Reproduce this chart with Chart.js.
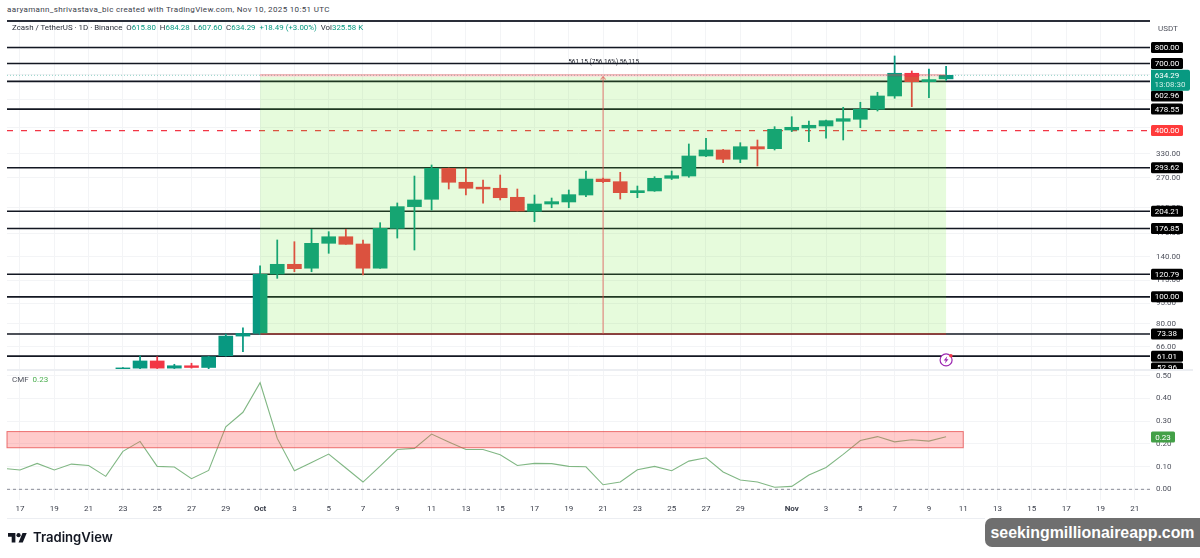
<!DOCTYPE html>
<html>
<head>
<meta charset="utf-8">
<script src="https://cdn.jsdelivr.net/npm/chart.js@4/dist/chart.umd.min.js"></script>
<style>
html,body{margin:0;padding:0;background:#fff;width:1200px;height:558px;overflow:hidden}
body{position:relative;font-family:Roboto,"Liberation Sans",sans-serif;color:#131722}
canvas{position:absolute;left:0;display:block}
.t{position:absolute;white-space:nowrap}
.g{color:#089981}
.rule{position:absolute}
</style>
</head>
<body>
<div class="t" style="left:7px;top:4px;font-size:8px;letter-spacing:0.34px;line-height:12px;color:#3a3e4a">aaryamann_shrivastava_bic created with TradingView.com, Nov 10, 2025 10:51 UTC</div>
<canvas id="price" width="1200" height="370" style="top:0"></canvas>
<canvas id="cmf" width="1200" height="148" style="top:370px"></canvas>
<div class="rule" style="left:7px;top:20px;width:1143px;height:1.5px;background:#2a2e39"></div>
<div class="rule" style="left:7px;top:369px;width:1186px;height:2px;background:#eceef2"></div>
<div class="rule" style="left:7px;top:517.5px;width:978px;height:1px;background:#eceef2"></div>
<div class="t" style="left:12px;top:22px;font-size:7.9px;line-height:11px;color:#2a2e39">Zcash / TetherUS · 1D · Binance&nbsp;&nbsp;O<span class="g">615.80</span>&nbsp;&nbsp;H<span class="g">684.28</span>&nbsp;&nbsp;L<span class="g">607.60</span>&nbsp;&nbsp;C<span class="g">634.29</span>&nbsp;&nbsp;<span class="g">+18.49 (+3.00%)</span>&nbsp;&nbsp;Vol<span class="g">325.58 K</span></div>
<div class="t" style="left:1158px;top:23px;font-size:8px;line-height:11px;color:#50535e">USDT</div>
<div class="t" style="left:12px;top:374px;font-size:8px;line-height:11px;color:#50535e">CMF&nbsp;&nbsp;<span style="color:#4caf50">0.23</span></div>
<svg class="t" style="left:8px;top:530.6px" width="19" height="14.8" viewBox="0 0 36 28"><path fill="#131722" d="M14 22H7V11H0V4h14v18zM28 22h-8l7.5-18h8L28 22z"/><circle fill="#131722" cx="20" cy="8" r="4"/></svg>
<div class="t" style="left:33px;top:528px;font-family:Inter,Roboto,sans-serif;font-size:13.1px;line-height:19px;font-weight:600;color:#131722">TradingView</div>
<div class="t" style="left:985px;top:518px;width:215px;height:29px;background:#6f6f6f;border-radius:7px 0 0 7px;color:#fff;font-family:'Liberation Sans',Arial,sans-serif;font-weight:700;font-size:15.9px;line-height:29px;text-align:center">seekingmillionaireapp.com</div>
<script>
// Calendar: day 0 is Sep 17
const firstCandleDay = 6; // Sep 23
const openPrices = [54.8,55.2,58.6,55.2,56.3,55.5,61.2,72.1,
  73.8,121,131.2,127,156.3,165.1,155.4,127,177.1,212.2,225.6,292.1,260,249.6,247.3,229.4,204.1,216.9,220.6,233.8,267.1,261.3,238.4,241.8,268.7,273.9,323.7,340.3,315,349.8,344,
  402.1,408.8,415.7,432.3,439.6,477.9,533.9,645.2,601.6,615.8];
const highPrices = [55.5,61.1,60.7,57,57.5,60.9,73.3,77.3,
  129.4,160.7,158.4,175.6,172.2,175.6,160.7,185.6,218.8,273.9,300.3,292.8,292,265,276.2,245.8,233.8,228,243.8,285.6,269,282.5,252,272.4,285.6,357.8,375.2,342,361.6,369.9,413.3,
  449.2,433.4,437,485.9,506.6,550.6,745.3,657.7,668.6,684.28];
const lowPrices = [54.6,55,55,55,55.2,54.8,61,63.3,
  73,116.7,123.3,123.3,143.8,155,120,126.8,163.3,147.8,206.3,245.8,233.8,218.2,224.3,204.6,187.1,210.3,210.3,230.6,259,226.1,228.6,241,266,271,322,306.2,306.2,297.8,340.3,
  396.5,364.7,375.2,369.9,409.8,471,523.8,488.4,526.5,607.6];
const closePrices = [55.3,58.6,55.2,56.3,55.5,60.7,72.1,73.7,
  120.7,131.2,126.5,156.3,165.1,155,127,177.1,212.2,224.3,292.1,260,247.3,245.8,228.6,204.6,216.9,221.2,234.5,267.1,261.3,238.4,242.4,268.7,274.7,323.7,340.3,315,349.8,343.2,404.4,
  411.2,418.2,434.5,441.9,477.9,533.9,645.2,601.6,612,634.29];
// CMF from Sep 16 (day -1) to Nov 10
const firstCmfDay = -1;
const cmfValues = [0.092,0.085,0.114,0.085,0.111,0.105,0.057,0.167,0.211,0.101,0.098,0.047,0.083,0.275,0.339,
  0.469,0.224,0.082,0.118,0.155,0.094,0.032,0.102,0.175,0.18,0.243,0.208,0.175,0.175,0.152,0.105,0.114,0.113,0.101,0.099,0.02,0.032,0.086,0.101,0.082,0.124,0.139,0.076,0.041,0.032,0.009,
  0.013,0.063,0.096,0.154,0.215,0.232,0.209,0.218,0.212,0.231];
const levelPrices = [800,700,602.96,478.55,293.62,204.21,176.85,120.79,100,73.38,61.01];
const levelLabels = ['800.00','700.00','602.96','478.55','293.62','204.21','176.85','120.79','100.00','73.38','61.01','52.96'];
const levelLabelAt = [800,700,534,478.55,293.62,204.21,176.85,120.79,100,73.38,61.01,55.3];
const resistanceLevel = 400;
const lastPrice = 634.29;
const lastPriceLabels = ['634.29','13:08:30'];
const priceTicks = [66,80,95,115,140,170,210,270,330,410,520,640,790];
const cmfTicks = [0,0.1,0.2,0.3,0.4,0.5];
const xTickDays = [0,2,4,6,8,10,12,14,16,18,20,22,24,26,28,30,32,34,36,38,40,42,45,47,49,51,53,55,57,59,61,63,65];
const xTickLabels = ['17','19','21','23','25','27','29','Oct','3','5','7','9','11','13','15','17','19','21','23','25','27','29','Nov','3','5','7','9','11','13','15','17','19','21'];
const zone = {startDay:14,endDay:54,bottom:73.38,top:627,stop:641.5,arrowDay:34,labelAt:708,label:'561.15 (756.16%) 56,115'};
const cmfBand = {low:0.183,high:0.254,endDay:55};
const cmfLast = 0.23;
const iconDay = 54, iconPrice = 59.1;
const xMin = -0.758, xMax = 65.89;
const priceMin = 54.8, priceMax = 1006;
const cmfMin = -0.047, cmfMax = 0.525;

const UP='#089981', DOWN='#f23645';
const isUp = closePrices.map((c,i)=>c>=openPrices[i]);
const candleColors = isUp.map(u=>u?UP:DOWN);
const hline=(v,color,width,dash,order)=>({type:'line',data:[{x:xMin,y:v},{x:xMax,y:v}],borderColor:color,borderWidth:width,borderDash:dash||[],pointRadius:0,order:order||3});
const gridColor='#f3f4f6';
const commonX={type:'linear',offset:false,min:xMin,max:xMax,grid:{color:gridColor,lineWidth:1,drawTicks:false,offset:false},border:{display:false},
  afterBuildTicks(s){s.ticks=xTickDays.map(v=>({value:v}));}};
const noPad=s=>{s.paddingTop=0;s.paddingBottom=0;s.paddingLeft=0;s.paddingRight=0;};

const boxLabel=(ctx,text,x,y,w,h,bg,fg)=>{
  ctx.fillStyle=bg;ctx.beginPath();ctx.roundRect(x,y-h/2,w,h,1.5);ctx.fill();
  ctx.fillStyle=fg;ctx.font='8px Roboto';ctx.textAlign='center';ctx.textBaseline='middle';ctx.fillText(text,x+w/2,y+0.5);
};

const zonePlugin={id:'zone',afterDatasetsDraw(chart){
  const {ctx,scales:{x,y}}=chart;
  const l=x.getPixelForValue(zone.startDay), r=x.getPixelForValue(zone.endDay);
  const t=y.getPixelForValue(zone.top), b=y.getPixelForValue(zone.bottom), s=y.getPixelForValue(zone.stop);
  ctx.save();
  ctx.fillStyle='rgba(100,230,40,0.16)';ctx.fillRect(l,t,r-l,b-t);
  ctx.fillStyle='rgba(242,54,69,0.18)';ctx.fillRect(l,s,r-l,t-s);
  ctx.strokeStyle='rgba(229,83,83,0.4)';ctx.lineWidth=1;
  ctx.beginPath();ctx.moveTo(l,s+1);ctx.lineTo(r,s+1);ctx.stroke();
  ctx.strokeStyle='#c62828';ctx.beginPath();ctx.moveTo(l,b);ctx.lineTo(r,b);ctx.stroke();
  const ax=x.getPixelForValue(zone.arrowDay);
  ctx.strokeStyle='rgba(229,83,83,0.6)';ctx.lineWidth=1.3;ctx.beginPath();ctx.moveTo(ax,b);ctx.lineTo(ax,t);ctx.stroke();
  ctx.beginPath();ctx.moveTo(ax-2.5,t+3);ctx.lineTo(ax,t);ctx.lineTo(ax+2.5,t+3);ctx.stroke();
  ctx.fillStyle='#131722';ctx.font='6.4px Roboto';ctx.textAlign='center';ctx.textBaseline='middle';
  ctx.fillText(zone.label,ax+0.5,y.getPixelForValue(zone.labelAt));
  ctx.restore();
}, afterDraw(chart){
  const {ctx,scales:{x,y}}=chart;
  ctx.save();
  const bx=chart.chartArea.right+1;
  levelLabels.forEach((txt,i)=>boxLabel(ctx,txt,bx,y.getPixelForValue(levelLabelAt[i]),32,11,'#000','#fff'));
  boxLabel(ctx,'400.00',bx,y.getPixelForValue(resistanceLevel),32,11,'#ff3b3b','#fff');
  // last price tag
  const py=y.getPixelForValue(lastPrice);
  ctx.fillStyle=UP;ctx.beginPath();ctx.roundRect(bx,py-5.5,39,21,[0,2,2,0]);ctx.fill();
  ctx.font='8px Roboto';ctx.textBaseline='middle';ctx.textAlign='center';
  ctx.fillStyle='#fff';ctx.fillText(lastPriceLabels[0],bx+16,py+0.5);
  ctx.fillStyle='#cdeee7';ctx.fillText(lastPriceLabels[1],bx+19,py+10);
  // alert icon
  const ix=x.getPixelForValue(iconDay), iy=y.getPixelForValue(iconPrice);
  ctx.strokeStyle='#9c27b0';ctx.lineWidth=1.2;ctx.fillStyle='#fff';
  ctx.beginPath();ctx.arc(ix,iy,6,0,Math.PI*2);ctx.fill();ctx.stroke();
  ctx.fillStyle='#9c27b0';ctx.beginPath();
  ctx.moveTo(ix+1.2,iy-3.6);ctx.lineTo(ix-2.4,iy+0.6);ctx.lineTo(ix-0.3,iy+0.6);ctx.lineTo(ix-1.2,iy+3.6);ctx.lineTo(ix+2.4,iy-0.6);ctx.lineTo(ix+0.3,iy-0.6);ctx.closePath();ctx.fill();
  ctx.fillStyle='#f23645';ctx.beginPath();ctx.arc(ix+4.8,iy-4.2,1.8,0,Math.PI*2);ctx.fill();
  ctx.restore();
}};

const bandPlugin={id:'band',afterDatasetsDraw(chart){
  const {ctx,scales:{x,y}}=chart;
  const l=x.getPixelForValue(xMin), r=x.getPixelForValue(cmfBand.endDay);
  const t=y.getPixelForValue(cmfBand.high), b=y.getPixelForValue(cmfBand.low);
  ctx.save();
  ctx.fillStyle='rgba(255,82,82,0.3)';ctx.fillRect(l,t,r-l,b-t);
  ctx.strokeStyle='rgba(229,70,70,0.75)';ctx.lineWidth=1;ctx.strokeRect(l,t,r-l,b-t);
  ctx.restore();
}, afterDraw(chart){
  const {ctx,scales:{y}}=chart;
  ctx.save();
  const bx=chart.chartArea.right+1;
  const py=y.getPixelForValue(cmfLast);
  ctx.fillStyle='#43a047';ctx.beginPath();ctx.roundRect(bx,py-5.5,24,11,1.5);ctx.fill();
  ctx.fillStyle='#fff';ctx.font='8px Roboto';ctx.textAlign='center';ctx.textBaseline='middle';ctx.fillText(cmfLast.toFixed(2),bx+12,py+0.5);
  ctx.restore();
}};

new Chart(document.getElementById('price'),{
  type:'bar',
  data:{datasets:[
    ...levelPrices.map(v=>hline(v,'#131722',1.6)),
    hline(resistanceLevel,'#f23645',1.3,[6,8]),
    hline(lastPrice,'rgba(8,153,129,0.45)',1,[1,2]),
    {type:'bar',data:lowPrices.map((lo,i)=>({x:firstCandleDay+i,y:[lo,highPrices[i]]})),backgroundColor:candleColors,barThickness:1.1,grouped:false,borderWidth:0,order:2},
    {type:'bar',data:openPrices.map((o,i)=>({x:firstCandleDay+i,y:[o,closePrices[i]]})),backgroundColor:candleColors,barThickness:14,grouped:false,borderWidth:0,order:1}
  ]},
  options:{responsive:false,animation:false,
    layout:{padding:{left:7,top:20,right:0,bottom:1}},
    plugins:{legend:{display:false},tooltip:{enabled:false}},
    scales:{
      x:{...commonX,ticks:{display:false},afterFit(s){s.height=0;noPad(s);}},
      y:{type:'logarithmic',position:'right',min:priceMin,max:priceMax,
        grid:{color:gridColor,drawTicks:false},border:{display:false},
        afterBuildTicks(s){s.ticks=priceTicks.map(v=>({value:v}));},
        afterFit(s){s.width=50;noPad(s);},
        ticks:{autoSkip:false,padding:6,color:'#50535e',font:{family:'Roboto',size:8},callback:v=>Number(v).toFixed(2)}}
    }},
  plugins:[zonePlugin]
});

new Chart(document.getElementById('cmf'),{
  type:'line',
  data:{datasets:[
    {data:[{x:xMin,y:0},{x:xMax,y:0}],borderColor:'#8a8d96',borderWidth:1,borderDash:[3,3],pointRadius:0,order:3},
    {data:cmfValues.map((v,i)=>({x:firstCmfDay+i,y:v})),borderColor:'#81b784',borderWidth:1.1,pointRadius:0,tension:0,order:1}
  ]},
  options:{responsive:false,animation:false,
    layout:{padding:{left:7,top:0,right:0,bottom:0}},
    plugins:{legend:{display:false},tooltip:{enabled:false}},
    scales:{
      x:{...commonX,afterFit(s){s.height=18;noPad(s);},
        ticks:{autoSkip:false,maxRotation:0,padding:4,color:'#3a3e4a',
          font:c=>({family:'Roboto',size:8,weight:/[A-Z]/.test(c.tick&&c.tick.label||'')?'700':'400'}),
          callback:(v,i)=>xTickLabels[i]}},
      y:{position:'right',min:cmfMin,max:cmfMax,
        grid:{color:gridColor,drawTicks:false},border:{display:false},
        afterBuildTicks(s){s.ticks=cmfTicks.map(v=>({value:v}));},
        afterFit(s){s.width=50;noPad(s);},
        ticks:{autoSkip:false,padding:6,color:'#50535e',font:{family:'Roboto',size:8},callback:v=>Number(v).toFixed(2)}}
    }},
  plugins:[bandPlugin]
});
</script>
</body>
</html>
